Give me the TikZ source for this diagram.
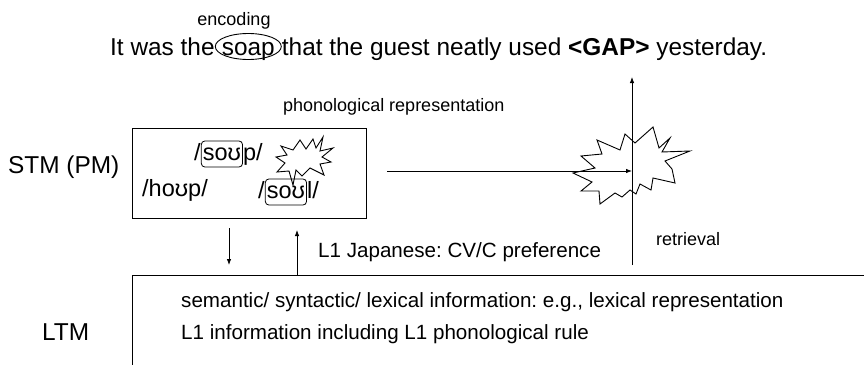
\documentclass[tikz,border=0pt]{standalone}
\usepackage{fontspec}
\setmainfont{Liberation Sans}
\usetikzlibrary{arrows.meta}
\frenchspacing
\begin{document}
\begin{tikzpicture}[x=1pt,y=-1pt,
  lbl/.style={inner sep=0, anchor=base west, font=\fontsize{18}{21}\selectfont},
  big/.style={inner sep=0, anchor=base west, font=\fontsize{24.4}{29}\selectfont},
  ipa/.style={inner sep=0, anchor=base west, font=\fontsize{23.5}{27}\selectfont},
  ipabox/.style={ipa, draw, line width=0.8, rounded corners=3.5, inner xsep=1.5, inner ysep=2, text height=17, text depth=5},
  mid/.style={inner sep=0, anchor=base west, font=\fontsize{20.6}{24}\selectfont},
  conn/.style={line width=0.8, -{Latex[length=6,width=4.5]}},
  frame/.style={line width=1},
  burst/.style={line width=0.9, line join=miter}
]
\useasboundingbox (0,0) rectangle (864,364);

% top sentence
\node[lbl, anchor=base] (enc) at (234,25) {encoding};
\node[big] (s1) at (110,55) {It was the};
\node[big] (soap) at ([xshift=6.8pt]s1.base east) {soap};
\draw[line width=0.9] ([yshift=8.5pt]soap.base) ellipse [x radius=33, y radius=13];
\node[big] (s2) at ([xshift=6.8pt]soap.base east) {that the guest neatly used \textbf{<GAP>} yesterday.};

% STM
\node[big] (stm) at (8,173) {STM (PM)};
\node[draw, frame, minimum width=234, minimum height=90, anchor=north west, inner sep=0] (stmbox) at (132,128) {};
\node[lbl] (phon) at (283,111) {phonological representation};

\node[ipa] (p1s) at (194,160) {/};
\node[ipabox] (p1b) at (p1s.base east) {soʊ};
\node[ipa] (p1e) at (p1b.base east) {p/};

\node[ipa] (p2) at (142,196) {/hoʊp/};

\node[ipa] (p3s) at (258,198) {/};
\node[ipabox] (p3b) at (p3s.base east) {soʊ};
\node[ipa] (p3e) at (p3b.base east) {l/};

% small burst
\draw[burst] (300,140) -- (306,149) -- (313,139) -- (316,148) -- (323,137) -- (320,151)
  -- (333,148) -- (322,157) -- (331,162) -- (320,164) -- (324,175) -- (310,168)
  -- (302,176) -- (296,170) -- (293,185) -- (289,171) -- (277,172) -- (285,163)
  -- (276,157) -- (287,155) -- (281,146) -- (293,150) -- cycle;

% big burst
\draw[burst] (625,134) -- (635,143) -- (653,127) -- (659,148) -- (670,138) -- (662,152)
  -- (690,151) -- (665,161) -- (672,169) -- (675,183) -- (653,178) -- (651,190)
  -- (640,184) -- (636,194) -- (630,190) -- (622,197) -- (615,193) -- (600,204)
  -- (599,191) -- (581,191) -- (592,182) -- (573,173) -- (595,168) -- (581,156)
  -- (602,154) -- (597,140) -- (620,150) -- cycle;

% connectors
\coordinate (hs) at (387,171);
\coordinate (cross) at (632,171);
\coordinate (vb) at (632,265);
\coordinate (vt) at (632,77);
\draw[conn] (hs) -- (cross);
\draw[conn] (vb) -- (vt);
\node[lbl] (retr) at (656,245) {retrieval};

\coordinate (d1) at (229,228);
\coordinate (d2) at (229,265);
\coordinate (u1) at (297,275);
\coordinate (u2) at (297,230);
\draw[conn] (d1) -- (d2);
\draw[conn] (u1) -- (u2);
\node[mid] (l1j) at (318,257) {L1 Japanese: CV/C preference};

% LTM
\node[big] (ltm) at (42,340) {LTM};
\coordinate (ltr) at (870,275);
\coordinate (ltl) at (132,275);
\coordinate (lbl) at (132,370);
\draw[frame] (ltr) -- (ltl) -- (lbl);
\node[mid] (sem) at (181,307) {semantic/ syntactic/ lexical information: e.g., lexical representation};
\node[mid] (l1i) at (181,339) {L1 information including L1 phonological rule};
\end{tikzpicture}
\end{document}
